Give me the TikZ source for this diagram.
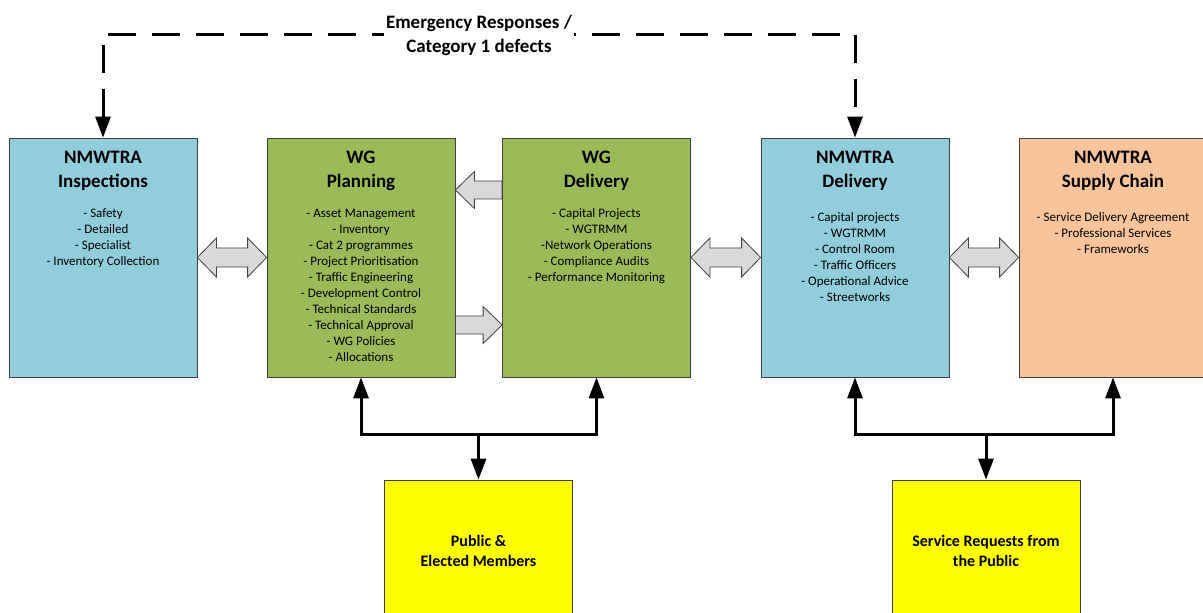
\documentclass[tikz,border=0pt]{standalone}
\usepackage{fontspec}
\setmainfont{Carlito}
\usepackage{xcolor}
\usetikzlibrary{arrows.meta,positioning,calc}

\definecolor{inspblue}{HTML}{92CDDC}
\definecolor{wggreen}{HTML}{9BBB59}
\definecolor{supplyorange}{HTML}{F8C49B}
\definecolor{pubyellow}{HTML}{FFFF00}
\definecolor{arrowgray}{HTML}{D9D9D9}

\tikzset{
  box/.style={draw=black!75, line width=0.8pt, minimum width=188pt, minimum height=239pt, inner sep=0pt},
  pubbox/.style={box, fill=pubyellow, minimum height=142pt, align=center,
                 font=\bfseries\fontsize{16}{20}\selectfont},
  hdr/.style={font=\bfseries\fontsize{19}{24}\selectfont, align=center, inner sep=0pt},
  lst/.style={font=\fontsize{13}{16}\selectfont, align=center, inner sep=0pt},
  blk/.style={draw=black!75, line width=0.8pt, fill=arrowgray, line join=miter},
  bus/.style={line width=3pt},
  emg/.style={line width=3pt, dash pattern=on 28pt off 16pt},
  emglabel/.style={font=\bfseries\fontsize{19}{24}\selectfont, align=center, fill=white, inner sep=2pt}
}

\begin{document}
\begin{tikzpicture}[x=1pt, y=1pt, >={Triangle[width=15pt,length=21pt]}]
\useasboundingbox (0,0) rectangle (1203,613);

% main boxes
\node[box, fill=inspblue] (insp) at (103,355.5) {};
\node[box, fill=wggreen] (plan) at (361,355.5) {};
\node[box, fill=wggreen] (wgdel) at (596.5,355.5) {};
\node[box, fill=inspblue] (nmdel) at (855,355.5) {};
\node[box, fill=supplyorange] (supply) at (1113,355.5) {};

% bottom boxes
\node[pubbox] (public) at (478.5,62) {Public \&\\Elected Members};
\node[pubbox] (service) at (986,62) {Service Requests from\\the Public};

% titles
\node[hdr, below=13pt of insp.north] (inspH) {NMWTRA\\Inspections};
\node[hdr, below=13pt of plan.north] (planH) {WG\\Planning};
\node[hdr, below=13pt of wgdel.north] (wgdelH) {WG\\Delivery};
\node[hdr, below=13pt of nmdel.north] (nmdelH) {NMWTRA\\Delivery};
\node[hdr, below=13pt of supply.north] (supplyH) {NMWTRA\\Supply Chain};

% lists
\node[lst, below=71pt of insp.north] (inspL) {- Safety\\- Detailed\\- Specialist\\- Inventory Collection};
\node[lst, below=71pt of plan.north] (planL) {- Asset Management\\- Inventory\\- Cat 2 programmes\\- Project Prioritisation\\- Traffic Engineering\\- Development Control\\- Technical Standards\\- Technical Approval\\- WG Policies\\- Allocations};
\node[lst, below=71pt of wgdel.north] (wgdelL) {- Capital Projects\\- WGTRMM\\-Network Operations\\- Compliance Audits\\- Performance Monitoring};
\node[lst, below=75pt of nmdel.north] (nmdelL) {- Capital projects\\- WGTRMM\\- Control Room\\- Traffic Officers\\- Operational Advice\\- Streetworks};
\node[lst, below=75pt of supply.north] (supplyL) {- Service Delivery Agreement\\- Professional Services\\- Frameworks};

% block arrows
\foreach \a/\b in {insp/plan, wgdel/nmdel, nmdel/supply}
  \filldraw[blk] (\a.east) -- ++(19,19.5) -- ++(0,-10) -- ($(\b.west)+(-19,9.5)$) -- ++(0,10) -- (\b.west)
    -- ++(-19,-19.5) -- ++(0,10) -- ($(\a.east)+(19,-9.5)$) -- ++(0,-10) -- cycle;
\filldraw[blk] ($(plan.east)+(0,67.5)$) -- ++(19,18.5) -- ++(0,-9.5) -- ($(wgdel.west)+(0,76.5)$)
  -- ++(0,-18) -- ($(plan.east)+(19,58.5)$) -- ++(0,-9.5) -- cycle;
\filldraw[blk] ($(wgdel.west)+(0,-67.5)$) -- ++(-19,18.5) -- ++(0,-9.5) -- ($(plan.east)+(0,-58.5)$)
  -- ++(0,-18) -- ($(wgdel.west)+(-19,-76.5)$) -- ++(0,-9.5) -- cycle;

% emergency responses
\coordinate (emgL) at ($(insp.north)+(0,103.5)$);
\draw[emg, <->] (insp.north) -- (emgL) -| node[pos=0.25, emglabel, yshift=-1.5pt] (emgT) {Emergency Responses /\\Category 1 defects} (nmdel.north);

% links to the public
\coordinate (pubJ) at ($(public.north)+(0,45)$);
\coordinate (serJ) at ($(service.north)+(0,45)$);
\draw[bus, <->] (plan.south) |- (pubJ) -| (wgdel.south);
\draw[bus, ->] (pubJ) -- (public.north);
\draw[bus, <->] (nmdel.south) |- (serJ) -| (supply.south);
\draw[bus, ->] (serJ) -- (service.north);
\end{tikzpicture}
\end{document}
